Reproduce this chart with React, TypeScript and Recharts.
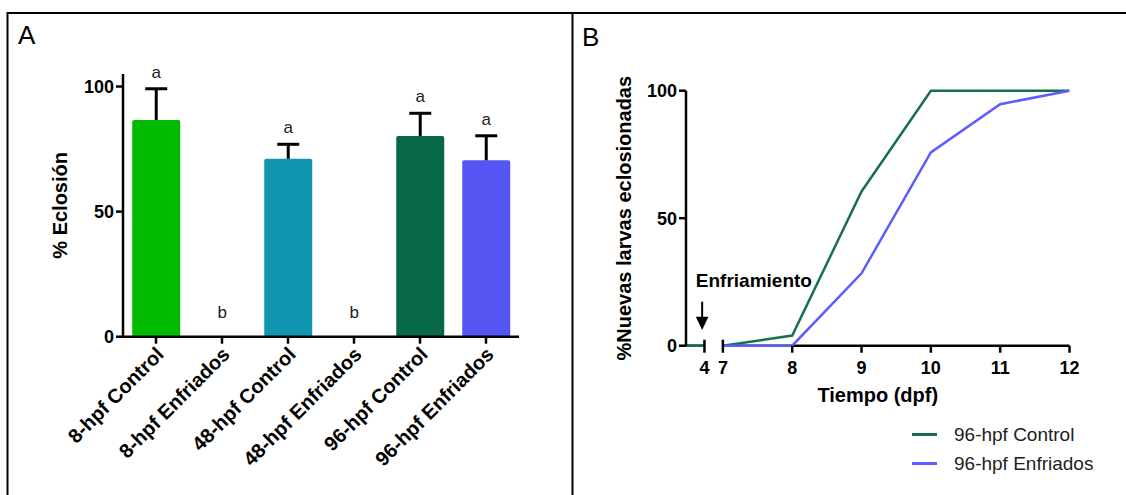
import React from 'react';
import { BarChart, Bar, Cell, XAxis, YAxis, LineChart, Line, ReferenceLine, ReferenceDot, Legend } from 'recharts';

const FONT = '"Liberation Sans", Arial, Helvetica, sans-serif';

// Panel A: % hatching per group (mean + SEM), letters = significance groups
const groups = ['8-hpf Control', '8-hpf Enfriados', '48-hpf Control', '48-hpf Enfriados', '96-hpf Control', '96-hpf Enfriados'];
const hatchMean = [86.6, 0, 71.1, 0, 80.2, 70.5];
const hatchSem = [12.5, 0, 5.8, 0, 9.1, 9.8];
const sigLetters = ['a', 'b', 'a', 'b', 'a', 'a'];
const groupColors = ['#00bb00', '#00bb00', '#1096b1', '#1096b1', '#066846', '#5656f5'];
const yTicksA = [0, 50, 100];

// Panel B: cumulative % of newly hatched larvae per day
const days = [1, 4, 7, 8, 9, 10, 11, 12];
const ctrl96 = [0, 0, 0, 4, 60.5, 100, 100, 100];
const cold96 = [null, null, 0, 0, 28.4, 75.8, 94.7, 100];
const dayTicks = [4, 7, 8, 9, 10, 11, 12];
const yTicksB = [0, 50, 100];
const COOLING_DAY = 4;

// broken x axis: days before 7 are squeezed into a short stub
const AXIS_BREAK = 7;
const SQUEEZE = 0.0887;
const toPos = (d: number) => (d >= AXIS_BREAK ? d : AXIS_BREAK - (AXIS_BREAK - d) * SQUEEZE);
const posToDay: Record<string, number> = {};
dayTicks.forEach((d) => { posToDay[toPos(d).toFixed(4)] = d; });

const barData = groups.map((g, i) => ({ group: g, mean: hatchMean[i] }));

const lineData: any[] = [];
days.forEach((d, i) => {
  if (d === AXIS_BREAK) {
    // gap row so both lines break with the axis
    lineData.push({ pos: (toPos(COOLING_DAY) + toPos(AXIS_BREAK)) / 2, control: null, cold: null });
  }
  lineData.push({ pos: toPos(d), control: ctrl96[i], cold: cold96[i] });
});

const axisStroke = { stroke: '#000', strokeWidth: 2.5 };
const tickFont = { fill: '#000', fontSize: 18, fontWeight: 'bold', fontFamily: FONT };

const BarWithError = (props: any) => {
  const { x, y, width, height, index, fill } = props;
  const mean = hatchMean[index];
  const sem = hatchSem[index];
  const cx = x + width / 2;
  const unit = mean > 0 ? height / mean : 0;
  const capY = y - sem * unit;
  const letterY = mean > 0 ? capY - 11 : y - 19;
  return (
    <g>
      {height > 0 && <rect x={x} y={y} width={width} height={height} fill={fill} rx={2} />}
      {sem > 0 && (
        <g stroke="#000" strokeWidth={3}>
          <line x1={cx} x2={cx} y1={y} y2={capY} />
          <line x1={cx - 11} x2={cx + 11} y1={capY} y2={capY} />
        </g>
      )}
      <text x={cx} y={letterY} textAnchor="middle" fontSize={17} fontFamily={FONT} fill="#222">
        {sigLetters[index]}
      </text>
    </g>
  );
};

const SlantTick = ({ x, y, payload }: any) => {
  const ax = x + 9;
  const ay = y + 10;
  return (
    <text x={ax} y={ay} transform={`rotate(-45 ${ax} ${ay})`} textAnchor="end" {...tickFont} fontSize={20}>
      {payload.value}
    </text>
  );
};

const DayTick = ({ x, y, payload }: any) => {
  const axisY = y - 9;
  const day = posToDay[Number(payload.value).toFixed(4)];
  const isBreak = day === COOLING_DAY || day === AXIS_BREAK;
  return (
    <g>
      <line x1={x} x2={x} y1={isBreak ? axisY - 6 : axisY} y2={axisY + 7} stroke="#000" strokeWidth={2.5} />
      <text x={x} y={axisY + 28} textAnchor="middle" {...tickFont}>{day}</text>
    </g>
  );
};

const CoolingArrow = ({ cx, cy }: any) => {
  const ax = cx - 2.3;
  return (
    <g>
      <line x1={ax} x2={ax} y1={cy - 44} y2={cy - 28} stroke="#000" strokeWidth={2} />
      <polygon points={`${ax - 6.3},${cy - 29} ${ax + 6.3},${cy - 29} ${ax},${cy - 15.7}`} fill="#000" />
      <text x={cx - 8.6} y={cy - 58.7} fontSize={19} fontWeight="bold" fontFamily={FONT} fill="#000">Enfriamiento</text>
    </g>
  );
};

const LegendBox = ({ payload }: any) => (
  <div style={{ fontFamily: FONT, fontSize: 19, color: '#222' }}>
    {(payload || []).map((p: any) => (
      <div key={p.value} style={{ display: 'flex', alignItems: 'center', height: 29.3 }}>
        <span style={{ display: 'inline-block', width: 25, height: 3, background: p.color, marginRight: 17 }} />
        <span>{p.value}</span>
      </div>
    ))}
  </div>
);

const verticalTitle = (text: string, dx: number) => ({ viewBox }: any) => {
  const tx = viewBox.x + dx;
  const ty = viewBox.y + viewBox.height / 2;
  return (
    <text x={tx} y={ty} transform={`rotate(-90 ${tx} ${ty})`} textAnchor="middle" dominantBaseline="central"
      fontSize={20} fontWeight="bold" fontFamily={FONT} fill="#000">
      {text}
    </text>
  );
};

export default function App() {
  return (
    <div style={{ position: 'absolute', left: 0, top: 0, width: 1126, height: 495, background: '#fff', overflow: 'hidden' }}>
      <svg width={1126} height={495} style={{ position: 'absolute', left: 0, top: 0 }}>
        <line x1={7.5} x2={1126} y1={13} y2={13} stroke="#000" strokeWidth={2} />
        <line x1={7.5} x2={7.5} y1={12} y2={495} stroke="#000" strokeWidth={2} />
        <line x1={572.5} x2={572.5} y1={12} y2={495} stroke="#000" strokeWidth={2} />
        <text x={18} y={44} fontSize={26} fontFamily={FONT} fill="#000">A</text>
        <text x={582} y={46} fontSize={26} fontFamily={FONT} fill="#000">B</text>
      </svg>

      <div style={{ position: 'absolute', left: 0, top: 0 }}>
        <BarChart width={572} height={495} data={barData} margin={{ top: 74, right: 53, left: 53, bottom: 58.3 }} barCategoryGap="14%">
          <XAxis dataKey="group" interval={0} height={100} tickSize={7} tickMargin={2}
            axisLine={axisStroke} tickLine={axisStroke} tick={<SlantTick />} />
          <YAxis width={70} domain={[0, 105]} ticks={yTicksA} tickSize={7} tickMargin={2}
            axisLine={axisStroke} tickLine={axisStroke} tick={tickFont}
            label={{ content: verticalTitle('% Eclosión', 7) }} />
          <Bar dataKey="mean" isAnimationActive={false} shape={<BarWithError />}>
            {barData.map((_, i) => <Cell key={i} fill={groupColors[i]} />)}
          </Bar>
        </BarChart>
      </div>

      <div style={{ position: 'absolute', left: 572, top: 0 }}>
        <LineChart width={554} height={495} data={lineData} margin={{ top: 90.7, right: 56.5, left: 54, bottom: 89.3 }}>
          <XAxis dataKey="pos" type="number" domain={[toPos(1), 12]} allowDataOverflow
            ticks={dayTicks.map(toPos)} interval={0} height={60} tickSize={7} tickMargin={2}
            axisLine={false} tickLine={false} tick={<DayTick />}
            label={{ value: 'Tiempo (dpf)', position: 'insideBottom', offset: 4, fontSize: 20, fontWeight: 'bold', fontFamily: FONT, fill: '#000' }} />
          <YAxis width={60} domain={[0, 100]} ticks={yTicksB} tickSize={7} tickMargin={2}
            axisLine={axisStroke} tickLine={axisStroke} tick={tickFont}
            label={{ content: verticalTitle('%Nuevas larvas eclosionadas', -2) }} />
          <ReferenceLine segment={[{ x: toPos(1), y: 0 }, { x: toPos(COOLING_DAY), y: 0 }]} stroke="#000" strokeWidth={2.5} />
          <ReferenceLine segment={[{ x: toPos(AXIS_BREAK), y: 0 }, { x: 12, y: 0 }]} stroke="#000" strokeWidth={2.5} />
          <ReferenceDot x={toPos(COOLING_DAY)} y={0} r={0} shape={<CoolingArrow />} />
          <Line type="linear" dataKey="control" name="96-hpf Control" stroke="#17704a" strokeWidth={2.5} dot={false} isAnimationActive={false} />
          <Line type="linear" dataKey="cold" name="96-hpf Enfriados" stroke="#5c5cff" strokeWidth={2.5} dot={false} isAnimationActive={false} />
          <Legend content={<LegendBox />} layout="horizontal" verticalAlign="middle" align="center"
            wrapperStyle={{ position: 'absolute', left: 340, top: 420, width: 214 }} />
        </LineChart>
      </div>
    </div>
  );
}
